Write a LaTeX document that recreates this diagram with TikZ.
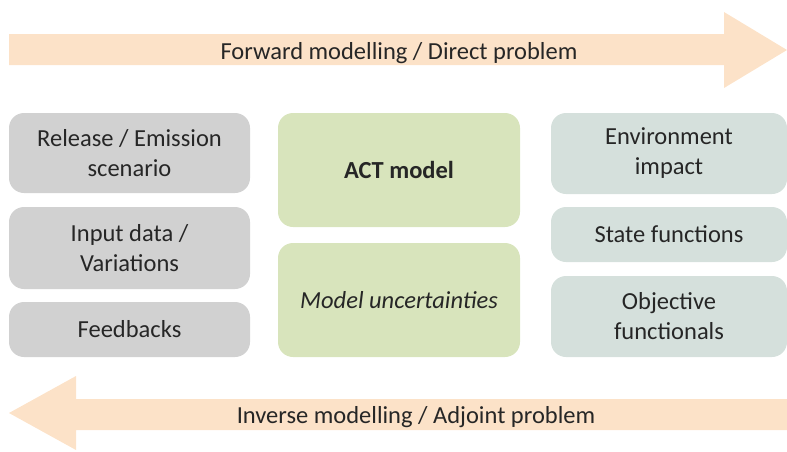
\documentclass[tikz,border=0pt]{standalone}
\usepackage{fontspec}
\setmainfont{Carlito}
\usetikzlibrary{positioning}
\definecolor{bandpeach}{RGB}{252,226,200}
\definecolor{inputgrey}{RGB}{209,209,209}
\definecolor{modelgreen}{RGB}{216,228,188}
\definecolor{outteal}{RGB}{213,224,220}
\definecolor{inkgrey}{RGB}{38,38,38}

\begin{document}
\begin{tikzpicture}[
  x=1pt, y=-1pt,
  every node/.style={font=\fontsize{24.5}{30}\selectfont, text=inkgrey, align=center, inner sep=0pt},
  band/.style={fill=bandpeach},
  inbox/.style={rounded corners=15pt, fill=inputgrey, minimum width=241pt},
  modbox/.style={rounded corners=15pt, fill=modelgreen, minimum width=242pt, minimum height=114pt},
  outbox/.style={rounded corners=15pt, fill=outteal, minimum width=236pt}
]
\useasboundingbox (0,0) rectangle (787,451);
% direction bands
\fill[band] (9,34) -- (724,34) -- (724,12) -- (787,50) -- (724,88) -- (724,65) -- (9,65) -- cycle;
\fill[band] (787,399) -- (76,399) -- (76,376) -- (9,413) -- (76,450) -- (76,430) -- (787,430) -- cycle;
\node[anchor=base] (forward) at (399,59) {Forward modelling / Direct problem};
\node[anchor=base] (inverse) at (416,423) {Inverse modelling / Adjoint problem};
% inputs
\node[inbox, minimum height=80pt] (release) at (129.5,153) {Release / Emission\\scenario};
\node[inbox, minimum height=82pt] (input) at (129.5,248) {Input data /\\Variations};
\node[inbox, minimum height=55pt] (feedback) at (129.5,329.5) {Feedbacks};
% model
\node[modbox] (act) at (399,170) {\bfseries ACT model};
\node[modbox] (uncert) at (399,300) {\itshape Model uncertainties};
% outputs
\node[outbox, minimum height=81pt] (impact) at (669,153.5) {Environment\\impact};
\node[outbox, minimum height=55pt] (state) at (669,234.5) {State functions};
\node[outbox, minimum height=81pt] (objective) at (669,316.5) {Objective\\functionals};
\end{tikzpicture}
\end{document}
